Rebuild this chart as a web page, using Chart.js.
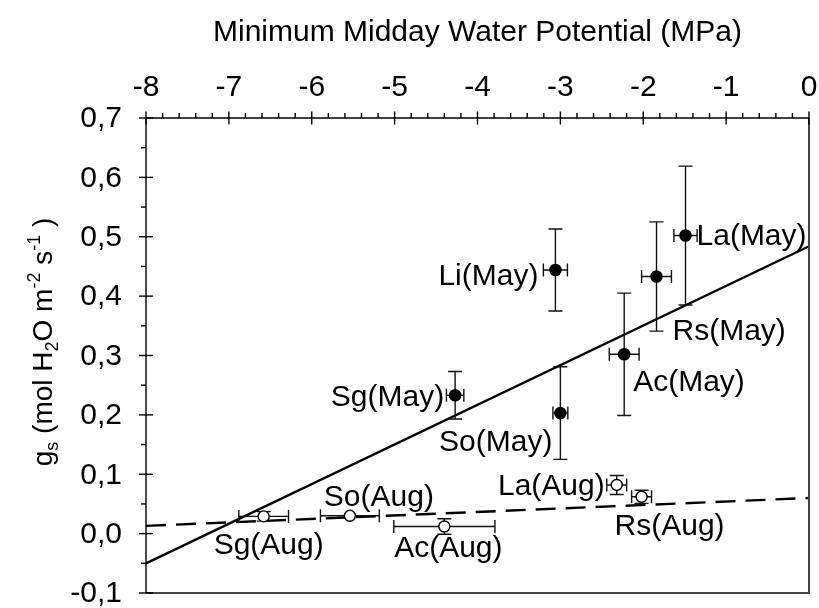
<!DOCTYPE html>
<html>
<head>
<meta charset="utf-8">
<script src="https://cdn.jsdelivr.net/npm/chart.js@4.4.1/dist/chart.umd.min.js"></script>
<style>
  html, body { margin: 0; padding: 0; background: #fff; }
  #wrap { width: 819px; height: 608px; }
</style>
</head>
<body>
<div id="wrap"><canvas id="c" width="819" height="608"></canvas></div>
<script>
const FONT = '"Liberation Sans", Arial, Helvetica, sans-serif';
const TEXT_SIZE = 30;

// Axis ticks
const xTicks = [-8, -7, -6, -5, -4, -3, -2, -1, 0];
const yTicks = [-0.1, 0.0, 0.1, 0.2, 0.3, 0.4, 0.5, 0.6, 0.7];

// May campaign: minimum midday water potential (MPa) vs stomatal conductance
const maySpecies = ['Sg', 'So', 'Ac', 'Li', 'Rs', 'La'];
const mayPsi     = [-4.27, -3.00, -2.23, -3.06, -1.84, -1.49];
const mayGs      = [0.233, 0.203, 0.302, 0.444, 0.433, 0.502];
const mayPsiErr  = [0.105, 0.09, 0.18, 0.145, 0.18, 0.14];
const mayGsErr   = [0.040, 0.078, 0.103, 0.069, 0.092, 0.117];

// August campaign
const augSpecies = ['Sg', 'So', 'Ac', 'La', 'Rs'];
const augPsi     = [-6.58, -5.54, -4.40, -2.32, -2.02];
const augGs      = [0.029, 0.030, 0.012, 0.082, 0.062];
const augPsiErr  = [0.30, 0.355, 0.61, 0.12, 0.12];
const augGsErr   = [0.008, 0.0, 0.013, 0.016, 0.011];

// Fitted regression lines (end points at the axis limits)
const mayFitPsi = [-8, 0];
const mayFitGs  = [-0.050, 0.484];
const augFitPsi = [-8, 0];
const augFitGs  = [0.013, 0.060];

// Placement of the point labels, in pixels relative to each point
const mayLabelPlace = [
  { dx: -11, dy: 2,  align: 'right' },   // Sg
  { dx: -8,  dy: 30, align: 'right' },   // So
  { dx: 9,   dy: 28, align: 'left' },    // Ac
  { dx: -17, dy: 7,  align: 'right' },   // Li
  { dx: 16,  dy: 55, align: 'left' },    // Rs
  { dx: 11,  dy: 1,  align: 'left' }     // La
];
const augLabelPlace = [
  { dx: 5,   dy: 29, align: 'center' },  // Sg
  { dx: 29,  dy: -18, align: 'center' }, // So
  { dx: 4,   dy: 22, align: 'center' },  // Ac
  { dx: -12, dy: 2,  align: 'right' },   // La
  { dx: 28,  dy: 30, align: 'center' }   // Rs
];

const toXY = (xs, ys) => xs.map((x, i) => ({ x, y: ys[i] }));
const fmtY = v => v.toFixed(1).replace('.', ',');

// Error bars drawn just before each point dataset
const errorBars = {
  id: 'errorBars',
  beforeDatasetDraw(chart, args) {
    const ds = chart.data.datasets[args.index];
    if (!ds.errX) return;
    const { ctx, scales: { x, y } } = chart;
    ctx.save();
    ctx.strokeStyle = '#111';
    ctx.lineWidth = 1.4;
    ds.data.forEach((p, i) => {
      const px = x.getPixelForValue(p.x), py = y.getPixelForValue(p.y);
      const ex = ds.errX[i], ey = ds.errY[i];
      ctx.beginPath();
      if (ex > 0) {
        const x0 = x.getPixelForValue(p.x - ex), x1 = x.getPixelForValue(p.x + ex);
        ctx.moveTo(x0, py); ctx.lineTo(x1, py);
        ctx.moveTo(x0, py - 6.5); ctx.lineTo(x0, py + 6.5);
        ctx.moveTo(x1, py - 6.5); ctx.lineTo(x1, py + 6.5);
      }
      if (ey > 0) {
        const y0 = y.getPixelForValue(p.y + ey), y1 = y.getPixelForValue(p.y - ey);
        ctx.moveTo(px, y0); ctx.lineTo(px, y1);
        ctx.moveTo(px - 7, y0); ctx.lineTo(px + 7, y0);
        ctx.moveTo(px - 7, y1); ctx.lineTo(px + 7, y1);
      }
      ctx.stroke();
    });
    ctx.restore();
  }
};

// Species labels next to each point
const pointLabels = {
  id: 'pointLabels',
  afterDatasetsDraw(chart) {
    const { ctx } = chart;
    ctx.save();
    ctx.font = TEXT_SIZE + 'px ' + FONT;
    ctx.fillStyle = '#000';
    ctx.textBaseline = 'middle';
    chart.data.datasets.forEach((ds, di) => {
      if (!ds.names) return;
      const meta = chart.getDatasetMeta(di);
      meta.data.forEach((el, i) => {
        const pl = ds.place[i];
        ctx.textAlign = pl.align;
        ctx.fillText(ds.names[i] + '(' + ds.month + ')', el.x + pl.dx, el.y + pl.dy);
      });
    });
    ctx.restore();
  }
};

// Axis lines, crossing tick marks, tick labels, frame and axis titles
const frame = {
  id: 'frame',
  afterDraw(chart) {
    const { ctx, chartArea: a, scales: { x, y } } = chart;
    ctx.save();
    const seg = (x0, y0, x1, y1) => { ctx.beginPath(); ctx.moveTo(x0, y0); ctx.lineTo(x1, y1); ctx.stroke(); };
    ctx.lineCap = 'butt';
    // right and bottom frame
    ctx.strokeStyle = '#444';
    ctx.lineWidth = 2;
    seg(a.right, a.top, a.right, a.bottom);
    seg(a.left, a.bottom, a.right + 1, a.bottom);
    // top (x) and left (y) axes
    ctx.strokeStyle = '#000';
    ctx.lineWidth = 1.4;
    seg(a.left, a.top, a.right, a.top);
    seg(a.left, a.top, a.left, a.bottom);
    // x ticks: majors cross the axis, minors point outward
    for (let k = 0; k <= 40; k++) {
      const v = -8 + k * 0.2;
      const px = x.getPixelForValue(v);
      if (k % 5 === 0) seg(px, a.top - 6.5, px, a.top + 6.5);
      else seg(px, a.top - 5, px, a.top);
    }
    // y ticks
    for (let k = 0; k <= 16; k++) {
      const v = -0.1 + k * 0.05;
      const py = y.getPixelForValue(v);
      if (k % 2 === 0) seg(a.left - 7, py, a.left + 7, py);
      else seg(a.left - 5, py, a.left, py);
    }
    // tick labels
    ctx.fillStyle = '#000';
    ctx.font = TEXT_SIZE + 'px ' + FONT;
    ctx.textBaseline = 'middle';
    ctx.textAlign = 'center';
    xTicks.forEach(v => ctx.fillText(String(v), x.getPixelForValue(v), a.top - 30));
    ctx.textAlign = 'right';
    yTicks.forEach(v => ctx.fillText(fmtY(v), a.left - 24, y.getPixelForValue(v) + 1));

    // x axis title
    ctx.textAlign = 'center';
    ctx.fillText('Minimum Midday Water Potential (MPa)', (a.left + a.right) / 2, 33);

    // y axis title with sub- and superscripts
    const parts = [
      { t: 'g', k: 'n' }, { t: 's', k: 'sub' }, { t: ' (mol H', k: 'n' }, { t: '2', k: 'sub' },
      { t: 'O m', k: 'n' }, { t: '-2', k: 'sup' }, { t: ' s', k: 'n' }, { t: '-1', k: 'sup' }, { t: ' )', k: 'n' }
    ];
    const big = '28px ' + FONT, small = '18px ' + FONT;
    let total = 0;
    parts.forEach(p => { ctx.font = p.k === 'n' ? big : small; p.w = ctx.measureText(p.t).width; total += p.w; });
    ctx.translate(42, 342);
    ctx.rotate(-Math.PI / 2);
    ctx.textAlign = 'left';
    ctx.textBaseline = 'alphabetic';
    let cx = -total / 2;
    parts.forEach(p => {
      ctx.font = p.k === 'n' ? big : small;
      const off = p.k === 'sub' ? 6 : p.k === 'sup' ? -12 : 0;
      ctx.fillText(p.t, cx, 10 + off);
      cx += p.w;
    });
    ctx.restore();
  }
};

new Chart(document.getElementById('c'), {
  type: 'scatter',
  data: {
    datasets: [
      {
        type: 'line', data: toXY(mayFitPsi, mayFitGs),
        borderColor: '#000', borderWidth: 2.4, pointRadius: 0, fill: false, order: 5
      },
      {
        type: 'line', data: toXY(augFitPsi, augFitGs),
        borderColor: '#000', borderWidth: 2.4, borderDash: [20, 10], pointRadius: 0, fill: false, order: 5
      },
      {
        data: toXY(mayPsi, mayGs), errX: mayPsiErr, errY: mayGsErr,
        names: maySpecies, month: 'May', place: mayLabelPlace,
        pointRadius: 6.3, backgroundColor: '#000', borderColor: '#000', borderWidth: 0, order: 1
      },
      {
        data: toXY(augPsi, augGs), errX: augPsiErr, errY: augGsErr,
        names: augSpecies, month: 'Aug', place: augLabelPlace,
        pointRadius: 5.5, backgroundColor: '#fff', borderColor: '#000', borderWidth: 1.4, order: 1
      }
    ]
  },
  options: {
    responsive: false,
    devicePixelRatio: 1,
    animation: false,
    events: [],
    layout: { padding: { left: 0, top: 0, right: 10, bottom: 15 }, autoPadding: false },
    plugins: { legend: { display: false }, tooltip: { enabled: false } },
    scales: {
      x: {
        type: 'linear', position: 'top', min: -8, max: 0,
        afterBuildTicks: s => { s.ticks = xTicks.map(v => ({ value: v })); },
        afterFit: s => { s.height = 118; s.paddingLeft = 0; s.paddingRight = 0; },
        grid: { display: false, drawTicks: false, tickLength: 0 },
        border: { display: false },
        ticks: { display: false, padding: 0 }
      },
      y: {
        type: 'linear', min: -0.1, max: 0.7,
        afterBuildTicks: s => { s.ticks = yTicks.map(v => ({ value: v })); },
        afterFit: s => { s.width = 146; s.paddingTop = 0; s.paddingBottom = 0; },
        grid: { display: false, drawTicks: false, tickLength: 0 },
        border: { display: false },
        ticks: { display: false, padding: 0 }
      }
    }
  },
  plugins: [errorBars, pointLabels, frame]
});
</script>
</body>
</html>
